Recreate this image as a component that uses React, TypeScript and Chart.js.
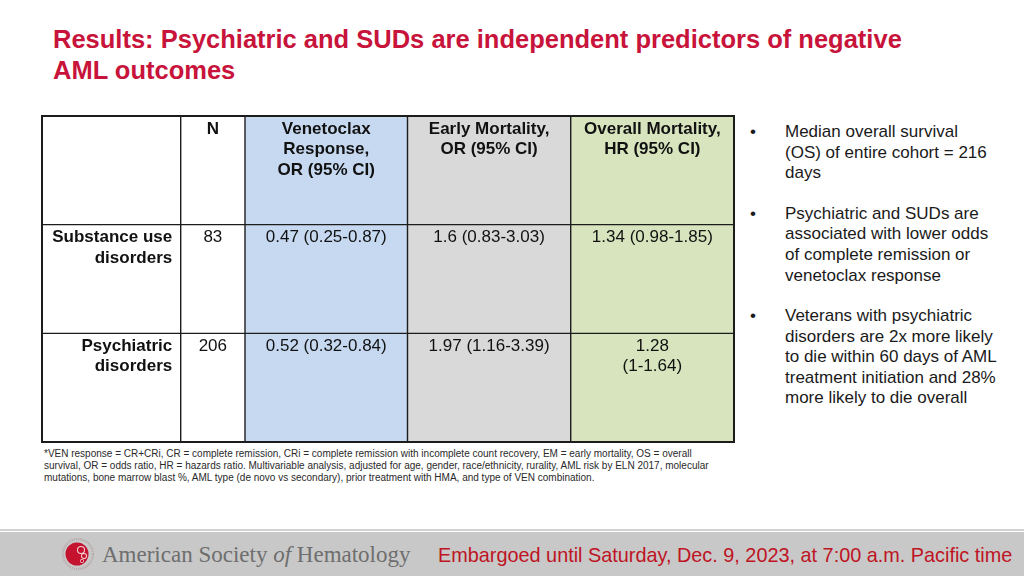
import React, { useEffect, useRef } from 'react';
import { Chart, registerables } from 'chart.js';

Chart.register(...registerables);

// ---------- data ----------
const columnHeaders = ['', 'N', 'Venetoclax\nResponse,\nOR (95% CI)', 'Early Mortality,\nOR (95% CI)', 'Overall Mortality,\nHR (95% CI)'];
const rowLabels = ['Substance use\ndisorders', 'Psychiatric\ndisorders'];
const nValues = [83, 206];
const venOR = [0.47, 0.52];
const venLower = [0.25, 0.32];
const venUpper = [0.87, 0.84];
const emOR = [1.6, 1.97];
const emLower = [0.83, 1.16];
const emUpper = [3.03, 3.39];
const omHR = [1.34, 1.28];
const omLower = [0.98, 1];
const omUpper = [1.85, 1.64];

const bullets = [
  ['Median overall survival', '(OS) of entire cohort = 216', 'days'],
  ['Psychiatric and SUDs are', 'associated with lower odds', 'of complete remission or', 'venetoclax response'],
  ['Veterans with psychiatric', 'disorders are 2x more likely', 'to die within 60 days of AML', 'treatment initiation and 28%', 'more likely to die overall'],
];
const footnoteLines = [
  '*VEN response = CR+CRi, CR = complete remission, CRi = complete remission with incomplete count recovery, EM = early mortality, OS = overall',
  'survival, OR = odds ratio, HR = hazards ratio. Multivariable analysis, adjusted for age, gender, race/ethnicity, rurality, AML risk by ELN 2017, molecular',
  'mutations, bone marrow blast %, AML type (de novo vs secondary), prior treatment with HMA, and type of VEN combination.',
];

// ---------- layout / style ----------
const COL_WIDTHS = [138.7, 64.3, 162.5, 163.2, 163.3];
const COL_COLORS = ['#ffffff', '#ffffff', '#C6D9F0', '#D9D9D9', '#D7E4BD'];
const BREAK_CELLS = ['2-4'];
const FONT = '"Liberation Sans", Arial, sans-serif';
const TITLE_COLOR = '#C8133B';

const fmt = (v: number, lo: number, hi: number) => `${v} (${lo}-${hi})`;

function cellLines(r: number, c: number): string[] {
  if (r === 0) return columnHeaders[c] ? columnHeaders[c].split('\n') : [];
  const i = r - 1;
  let s = '';
  if (c === 0) return rowLabels[i].split('\n');
  if (c === 1) s = String(nValues[i]);
  if (c === 2) s = fmt(venOR[i], venLower[i], venUpper[i]);
  if (c === 3) s = fmt(emOR[i], emLower[i], emUpper[i]);
  if (c === 4) s = fmt(omHR[i], omLower[i], omUpper[i]);
  if (BREAK_CELLS.includes(`${r}-${c}`)) {
    const k = s.indexOf(' (');
    return [s.slice(0, k), s.slice(k + 1)];
  }
  return [s];
}

const tablePlugin = {
  id: 'tableCells',
  afterDatasetsDraw(chart: any) {
    const ctx = chart.ctx as CanvasRenderingContext2D;
    const cells: any[][] = [];
    chart.data.datasets.forEach((_: any, c: number) => {
      const meta = chart.getDatasetMeta(c);
      meta.data.forEach((el: any, r: number) => {
        const p = el.getProps(['x', 'y', 'base', 'height'], true);
        const left = Math.min(p.x, p.base);
        const right = Math.max(p.x, p.base);
        (cells[r] = cells[r] || [])[c] = { left, right, top: p.y - p.height / 2, bottom: p.y + p.height / 2 };
      });
    });
    ctx.save();
    ctx.fillStyle = '#111111';
    ctx.textBaseline = 'alphabetic';
    cells.forEach((row, r) => {
      row.forEach((cell, c) => {
        const lines = cellLines(r, c);
        const bold = r === 0 || c === 0;
        ctx.font = `${bold ? 'bold ' : ''}17px ${FONT}`;
        let x: number;
        if (c === 0) {
          ctx.textAlign = 'right';
          x = cell.right - 8.5;
        } else {
          ctx.textAlign = 'center';
          x = (cell.left + cell.right) / 2;
        }
        lines.forEach((ln, k) => {
          ctx.fillText(ln, x, cell.top + 17.6 + k * 20.5);
        });
      });
    });
    // grid lines
    const top = cells[0][0].top;
    const bottom = cells[cells.length - 1][0].bottom;
    const left = cells[0][0].left;
    const right = cells[0][cells[0].length - 1].right;
    ctx.strokeStyle = '#1c1c1c';
    ctx.lineWidth = 1.4;
    ctx.beginPath();
    for (let c = 1; c < cells[0].length; c++) {
      const x = cells[0][c].left;
      ctx.moveTo(x, top);
      ctx.lineTo(x, bottom);
    }
    for (let r = 1; r < cells.length; r++) {
      const y = cells[r][0].top;
      ctx.moveTo(left, y);
      ctx.lineTo(right, y);
    }
    ctx.stroke();
    ctx.lineWidth = 2;
    ctx.strokeRect(left, top, right - left, bottom - top);
    ctx.restore();
  },
};

function TableChart() {
  const ref = useRef<HTMLCanvasElement>(null);
  useEffect(() => {
    if (!ref.current) return;
    const labels = ['header', ...rowLabels];
    const chart = new Chart(ref.current, {
      type: 'bar',
      data: {
        labels,
        datasets: COL_WIDTHS.map((w, c) => ({
          label: `col${c}`,
          data: labels.map(() => w),
          backgroundColor: COL_COLORS[c],
          borderWidth: 0,
          barPercentage: 1,
          categoryPercentage: 1,
        })),
      },
      options: {
        indexAxis: 'y',
        animation: false,
        responsive: true,
        maintainAspectRatio: false,
        layout: { padding: 2 },
        plugins: { legend: { display: false }, tooltip: { enabled: false } },
        events: [],
        scales: {
          x: { stacked: true, min: 0, max: COL_WIDTHS.reduce((a, b) => a + b, 0), display: false },
          y: { stacked: true, display: false },
        },
      },
      plugins: [tablePlugin],
    } as any);
    return () => chart.destroy();
  }, []);
  return (
    <div style={{ position: 'absolute', left: 40, top: 114, width: 696, height: 330 }}>
      <canvas ref={ref} />
    </div>
  );
}

function Logo() {
  return (
    <svg style={{ position: 'absolute', left: 60, top: 537 }} width={36} height={36} viewBox="0 0 36 36">
      <circle cx={18} cy={17} r={15} fill="none" stroke="#b9a9a9" strokeWidth={2.2} strokeDasharray="1.2 1" />
      <circle cx={17} cy={17} r={11.5} fill="#C4122F" />
      <circle cx={21} cy={13} r={4} fill="#f4d6da" />
      <circle cx={21} cy={13} r={3} fill="#C4122F" />
      <circle cx={24} cy={19} r={3} fill="#f4d6da" />
      <circle cx={24} cy={19} r={2.1} fill="#C4122F" />
      <circle cx={22} cy={24} r={2} fill="#f4d6da" />
      <circle cx={22} cy={24} r={1.3} fill="#C4122F" />
    </svg>
  );
}

export default function App() {
  return (
    <div style={{ position: 'absolute', left: 0, top: 0, width: 1024, height: 576, overflow: 'hidden', background: '#ffffff', fontFamily: FONT }}>
      <div style={{ position: 'absolute', left: 53, top: 24, fontSize: 25.5, lineHeight: '30.5px', fontWeight: 'bold', color: TITLE_COLOR, whiteSpace: 'nowrap' }}>
        Results: Psychiatric and SUDs are independent predictors of negative
        <br />
        AML outcomes
      </div>

      <TableChart />

      {bullets.map((lines, i) => (
        <div key={i} style={{ position: 'absolute', left: 750, top: [122.1, 203.8, 306.1][i], fontSize: 17, lineHeight: '20.6px', color: '#1a1a1a', whiteSpace: 'nowrap' }}>
          <span style={{ position: 'absolute', left: 0, top: 0 }}>•</span>
          <div style={{ marginLeft: 35 }}>
            {lines.map((l, k) => (
              <div key={k}>{l}</div>
            ))}
          </div>
        </div>
      ))}

      <div style={{ position: 'absolute', left: 44, top: 447.5, fontSize: 10, lineHeight: '12px', color: '#2a2a2a', whiteSpace: 'nowrap' }}>
        {footnoteLines.map((l, k) => (
          <div key={k}>{l}</div>
        ))}
      </div>

      <div style={{ position: 'absolute', left: 0, top: 529, width: 1024, height: 1.5, background: '#d2d2d2' }} />
      <div style={{ position: 'absolute', left: 0, top: 532, width: 1024, height: 44, background: '#C8C8C8' }} />
      <Logo />
      <div style={{ position: 'absolute', left: 102, top: 542.2, fontFamily: '"Liberation Serif", "Times New Roman", serif', fontSize: 23, lineHeight: '26px', color: '#6e6e6e', whiteSpace: 'nowrap' }}>
        American Society <i>of</i> Hematology
      </div>
      <div style={{ position: 'absolute', left: 438, top: 543, fontSize: 19.85, lineHeight: '24px', color: '#BE1424', whiteSpace: 'nowrap' }}>
        Embargoed until Saturday, Dec. 9, 2023, at 7:00 a.m. Pacific time
      </div>
    </div>
  );
}
